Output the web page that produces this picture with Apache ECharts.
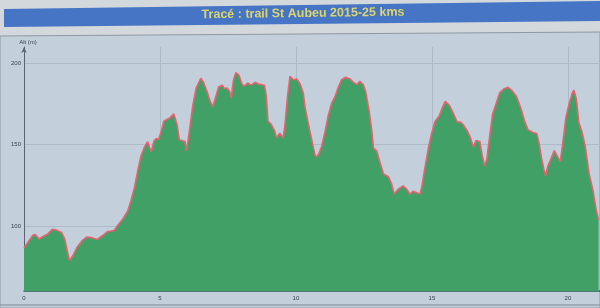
<!DOCTYPE html>
<html>
<head>
<meta charset="utf-8">
<script src="https://cdn.jsdelivr.net/npm/echarts@6/dist/echarts.min.js"></script>
<style>
html,body{margin:0;padding:0;background:#c3cfdb;}
#chart{width:600px;height:308px;}
</style>
</head>
<body>
<div id="chart"></div>
<script>
const titleText = 'Tracé : trail St Aubeu 2015-25 kms';
const yName = 'Alt (m)';
const xTicks = [0, 5, 10, 15, 20];
const yTicks = [100, 150, 200];
const kms = [0.00,0.32,0.42,0.55,0.70,0.88,1.04,1.19,1.38,1.50,1.59,1.67,1.79,1.94,2.13,2.31,2.50,2.69,2.87,3.06,3.31,3.43,3.62,3.81,3.93,4.06,4.18,4.30,4.43,4.55,4.62,4.68,4.78,4.86,4.95,5.06,5.14,5.21,5.36,5.51,5.58,5.63,5.71,5.83,5.92,5.98,6.08,6.21,6.33,6.50,6.60,6.73,6.85,6.94,7.04,7.16,7.29,7.38,7.47,7.57,7.62,7.70,7.79,7.91,8.01,8.10,8.22,8.35,8.50,8.66,8.84,8.91,8.97,9.09,9.22,9.28,9.40,9.53,9.59,9.69,9.78,9.90,10.03,10.15,10.27,10.33,10.45,10.58,10.70,10.76,10.85,10.94,11.07,11.19,11.31,11.43,11.56,11.68,11.83,11.99,12.11,12.24,12.35,12.48,12.57,12.69,12.79,12.85,12.97,13.09,13.22,13.40,13.52,13.61,13.76,13.94,14.07,14.19,14.31,14.44,14.56,14.62,14.74,14.87,14.99,15.11,15.27,15.37,15.49,15.64,15.79,15.93,16.05,16.15,16.29,16.41,16.52,16.62,16.76,16.85,16.94,17.02,17.11,17.23,17.37,17.49,17.64,17.80,17.94,18.11,18.27,18.41,18.53,18.71,18.86,18.94,19.03,19.12,19.18,19.26,19.36,19.50,19.59,19.72,19.81,19.93,20.05,20.17,20.22,20.31,20.40,20.52,20.64,20.78,20.92,21.04,21.13];
const alts = [86.5,94.2,94.8,92.0,93.5,95.1,98.0,97.5,96.0,91.9,84.7,78.8,81.5,86.6,90.8,93.2,92.8,91.7,93.8,96.4,97.2,99.9,103.9,109.1,115.3,123.4,133.7,143.0,148.5,151.8,148.1,145.6,152.2,153.8,153.1,159.0,164.4,165.4,166.4,168.9,168.4,162.2,153.0,152.3,151.9,146.1,158.1,174.4,184.7,190.8,188.3,182.6,176.4,173.3,178.8,185.5,186.5,184.4,184.8,182.3,178.6,189.5,194.2,192.5,187.3,185.9,187.9,186.6,188.3,187.0,186.5,179.9,164.5,162.5,158.3,154.2,156.9,154.2,161.3,179.7,192.0,189.9,190.3,187.4,181.7,173.4,163.2,152.9,143.7,142.3,144.7,148.7,157.9,168.1,175.3,179.3,185.4,189.9,191.4,190.4,188.3,186.9,188.9,186.8,182.0,170.8,158.5,147.9,146.2,139.0,131.9,130.2,125.7,119.6,122.6,124.6,122.6,119.5,121.4,120.4,119.7,123.4,135.6,147.8,157.0,164.1,167.7,172.1,176.6,174.2,169.0,163.9,163.8,162.2,158.7,154.6,148.5,152.5,151.9,143.3,136.8,141.2,153.4,168.6,175.7,181.8,184.2,185.2,183.3,179.6,172.4,164.3,159.1,157.5,156.6,150.9,141.7,134.6,130.9,136.6,140.6,146.3,143.6,139.6,150.7,166.9,175.4,182.1,183.5,178.0,163.8,157.6,148.5,132.2,122.0,109.8,103.7];

const data = kms.map((k, i) => [k, alts[i]]);
const gridColor = '#adbac8';
const T = 'rgba(0,0,0,0)';

const chart = echarts.init(document.getElementById('chart'), null, {renderer: 'canvas'});
chart.setOption({
  animation: false,
  backgroundColor: '#c3cfdb',
  graphic: [
    {type: 'rect', z: -10, silent: true, shape: {x: 0, y: 0, width: 600, height: 36}, style: {fill: '#d3d8dd'}},
    {type: 'polygon', z: -9, silent: true, shape: {points: [[0, 36], [600, 32], [600, 308], [0, 308]]}, style: {fill: '#c3cfdb', stroke: '#8d98a3', lineWidth: 1}},
    {type: 'polygon', z: 10, silent: true, shape: {points: [[4, 9], [600, 1], [600, 21], [4, 27]]}, style: {fill: '#4675c6'}},
    {type: 'text', z: 11, silent: true, x: 303, y: 13.5, rotation: 0.013,
      style: {text: titleText, fill: '#dcd46c', font: 'bold 12.5px "Liberation Sans", Arial, sans-serif', align: 'center', verticalAlign: 'middle'}},
    {type: 'line', z: 10, silent: true, shape: {x1: 0, y1: 305, x2: 600, y2: 305}, style: {stroke: '#7f8b96', lineWidth: 1}}
  ],
  grid: {left: 24, right: 0, top: 47, bottom: 17},
  xAxis: {
    type: 'value', min: 0, max: 21.18, interval: 5,
    axisLine: {show: true, onZero: false, lineStyle: {color: '#2f5d5e', width: 1.5}},
    axisTick: {show: false},
    axisLabel: {fontSize: 6, color: '#3d434a', margin: 4, showMaxLabel: false,
      formatter: v => xTicks.includes(v) ? String(v) : ''},
    splitLine: {show: true, lineStyle: {color: gridColor, width: 1}}
  },
  yAxis: {
    type: 'value', min: 60, max: 210, interval: 10,
    name: yName, nameGap: 2,
    nameTextStyle: {fontSize: 6, color: '#3d434a', padding: [0, 0, 0, 8]},
    axisLine: {show: true, onZero: false, symbol: ['none', 'arrow'], symbolSize: [4, 6], lineStyle: {color: '#59646e', width: 1}},
    axisTick: {show: false},
    axisLabel: {fontSize: 6, color: '#3d434a', margin: 3,
      formatter: v => yTicks.includes(v) ? String(v) : ''},
    splitLine: {show: true, lineStyle: {color: [T, T, T, T, gridColor], width: 1}}
  },
  series: [{
    type: 'line', data: data, showSymbol: false, symbol: 'none',
    lineStyle: {color: '#e5646f', width: 1.6},
    areaStyle: {color: '#41a066', opacity: 1, origin: 'start'}
  }]
});
</script>
</body>
</html>
